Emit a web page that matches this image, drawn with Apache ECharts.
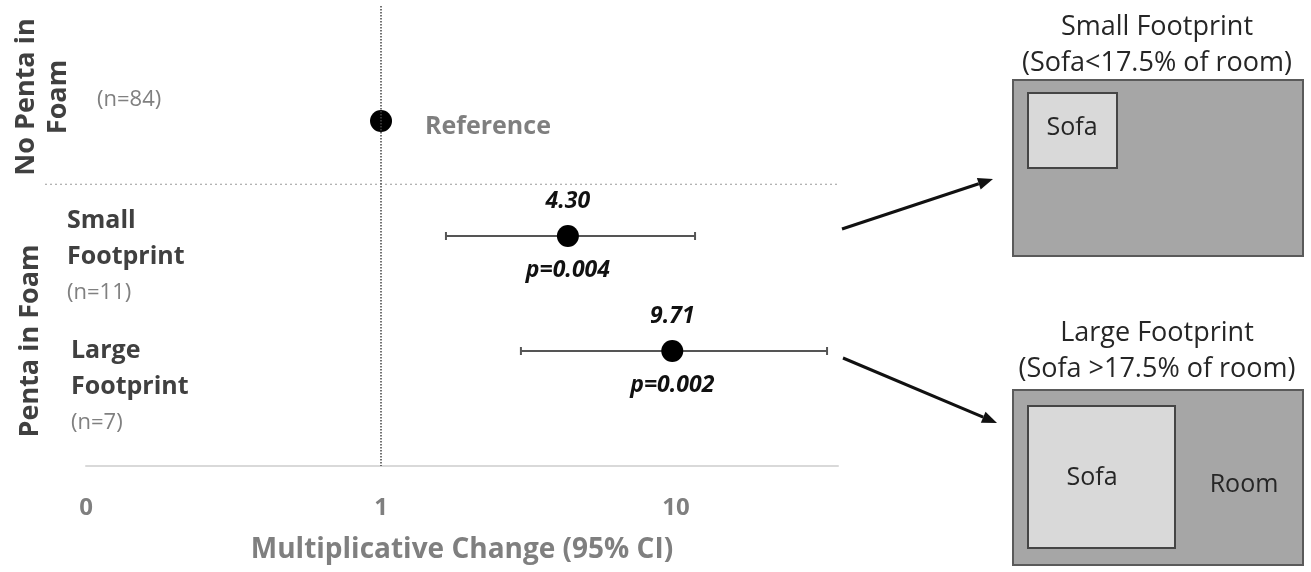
<!DOCTYPE html>
<html>
<head>
<meta charset="utf-8">
<script src="https://cdn.jsdelivr.net/npm/echarts@6/dist/echarts.min.js"></script>
<style>
  html, body { margin: 0; padding: 0; background: #fff; }
  #chart { width: 1311px; height: 572px; }
</style>
</head>
<body>
<div id="chart"></div>
<script>
// Forest plot: multiplicative change in exposure by sofa footprint
const groups = ['Reference', 'Small Footprint', 'Large Footprint'];
const rows = [1, 2, 3];
const estimates = [1, 4.30, 9.71];
const ciLow = [null, 1.66, 2.98];
const ciHigh = [null, 11.6, 32.5];
const pValues = [null, '0.004', '0.002'];
const sampleSizes = [84, 11, 7];
const tickValues = [0.1, 1, 10];
const tickLabels = ['0', '1', '10'];
const xMin = 0.1;
const xMax = 35.4;

const FONT = "'Open Sans', 'Noto Sans', sans-serif";
const chart = echarts.init(document.getElementById('chart'));

const pointData = estimates.map((v, i) => {
  const item = { value: [v, rows[i]] };
  if (i === 0) {
    item.label = {
      show: true, position: 'right', distance: 33, offset: [0, 6],
      formatter: groups[0], color: '#7f7f7f', fontSize: 25, fontWeight: 'bold', fontFamily: FONT
    };
  } else {
    item.label = {
      show: true, position: 'top', distance: 12,
      formatter: v.toFixed(2), color: '#111', fontSize: 23,
      fontWeight: 'bold', fontStyle: 'italic', fontFamily: FONT
    };
  }
  return item;
});

const barData = [];
estimates.forEach((v, i) => {
  if (ciLow[i] != null) barData.push([ciLow[i], ciHigh[i], rows[i], v, pValues[i]]);
});

function renderBar(params, api) {
  const y = api.value(2);
  const a = api.coord([api.value(0), y]);
  const b = api.coord([api.value(1), y]);
  const c = api.coord([api.value(3), y]);
  const style = { stroke: '#555', lineWidth: 2 };
  return {
    type: 'group',
    children: [
      { type: 'line', shape: { x1: a[0], y1: a[1], x2: b[0], y2: b[1] }, style },
      { type: 'line', shape: { x1: a[0], y1: a[1] - 4, x2: a[0], y2: a[1] + 4 }, style },
      { type: 'line', shape: { x1: b[0], y1: b[1] - 4, x2: b[0], y2: b[1] + 4 }, style },
      {
        type: 'text', x: c[0], y: c[1] + 34,
        style: {
          text: 'p=' + api.value(4), align: 'center', verticalAlign: 'middle',
          fill: '#111', fontSize: 23, fontWeight: 'bold', fontStyle: 'italic', fontFamily: FONT
        }
      }
    ]
  };
}

function arrow(x1, y1, x2, y2) {
  const ang = Math.atan2(y2 - y1, x2 - x1);
  const len = 15, half = 6;
  const bx = x2 - len * Math.cos(ang), by = y2 - len * Math.sin(ang);
  const nx = -Math.sin(ang), ny = Math.cos(ang);
  return [
    { type: 'line', shape: { x1, y1, x2: bx, y2: by }, style: { stroke: '#111', lineWidth: 3 } },
    { type: 'polygon', shape: { points: [[x2, y2], [bx + nx * half, by + ny * half], [bx - nx * half, by - ny * half]] }, style: { fill: '#111' } }
  ];
}

function txt(x, y, text, opts) {
  return {
    type: 'text', x, y,
    style: Object.assign({
      text, align: 'left', verticalAlign: 'middle', fill: '#404040',
      fontSize: 25, fontWeight: 'bold', fontFamily: FONT
    }, opts || {})
  };
}

function roomPanel(title1, title2, top, room, sofa, sofaLabel, roomLabel) {
  const plain = { align: 'center', fontWeight: 'normal', fill: '#262626' };
  const els = [
    txt(1157, top, title1, Object.assign({ fontSize: 27 }, plain)),
    txt(1157, top + 36, title2, Object.assign({ fontSize: 27 }, plain)),
    { type: 'rect', shape: room, style: { fill: '#a6a6a6', stroke: '#5a5a5a', lineWidth: 2 } },
    { type: 'rect', shape: sofa, style: { fill: '#d9d9d9', stroke: '#454545', lineWidth: 2 } },
    txt(sofaLabel[0], sofaLabel[1], 'Sofa', Object.assign({ fontSize: 25 }, plain))
  ];
  if (roomLabel) {
    els.push(txt(roomLabel[0], roomLabel[1], 'Room', Object.assign({ fontSize: 25 }, plain)));
  }
  return els;
}

chart.setOption({
  animation: false,
  backgroundColor: '#fff',
  grid: { left: 86, right: 473, top: 6, bottom: 106 },
  xAxis: {
    type: 'log', logBase: 10, min: xMin, max: xMax, position: 'bottom',
    axisLine: { show: true, onZero: false, lineStyle: { color: '#d9d9d9', width: 2 } },
    axisTick: { show: false },
    splitLine: { show: false },
    axisLabel: {
      margin: 30, fontSize: 24, fontWeight: 'bold', color: '#7f7f7f', fontFamily: FONT,
      showMaxLabel: false, showMinLabel: true,
      formatter: (v) => {
        const k = tickValues.findIndex(t => Math.abs(Math.log10(t) - Math.log10(v)) < 1e-6);
        return k >= 0 ? tickLabels[k] : '';
      }
    },
    name: 'Multiplicative Change (95% CI)',
    nameLocation: 'middle', nameGap: 70,
    nameTextStyle: { fontSize: 28, fontWeight: 'bold', color: '#7f7f7f', fontFamily: FONT }
  },
  yAxis: { type: 'value', inverse: true, min: 0, max: 4, show: false },
  series: [
    {
      type: 'custom', renderItem: renderBar, data: barData,
      encode: { x: [0, 1], y: 2 }, z: 2
    },
    {
      type: 'scatter', data: pointData, symbol: 'circle', symbolSize: 22,
      itemStyle: { color: '#000', opacity: 1 }, z: 3,
      markLine: {
        silent: true, symbol: 'none', label: { show: false },
        lineStyle: { type: 'dotted', color: '#444', width: 1.5 },
        data: [{ xAxis: 1 }]
      }
    }
  ]
});

// Divider between the reference group and the foam groups
const divY = chart.convertToPixel({ yAxisIndex: 0 }, 1.55);
const rightX = chart.convertToPixel({ xAxisIndex: 0 }, xMax);

const graphics = [
  { type: 'line', shape: { x1: 45, y1: divY, x2: rightX, y2: divY },
    style: { stroke: '#9a9a9a', lineWidth: 1.2, lineDash: [2, 3] } },
  // Group headers (rotated)
  { type: 'text', x: 42, y: 97, rotation: Math.PI / 2,
    style: { text: 'No Penta in\nFoam', align: 'center', verticalAlign: 'middle', lineHeight: 32,
             fill: '#404040', fontSize: 27, fontWeight: 'bold', fontFamily: FONT } },
  { type: 'text', x: 30, y: 341, rotation: Math.PI / 2,
    style: { text: 'Penta in Foam', align: 'center', verticalAlign: 'middle',
             fill: '#404040', fontSize: 27, fontWeight: 'bold', fontFamily: FONT } },
  txt(97, 100, '(n=' + sampleSizes[0] + ')', { fontWeight: 'normal', fill: '#808080', fontSize: 22 }),
  txt(67, 221, 'Small'),
  txt(67, 257, 'Footprint'),
  txt(67, 293, '(n=' + sampleSizes[1] + ')', { fontWeight: 'normal', fill: '#808080', fontSize: 22 }),
  txt(71, 351, 'Large'),
  txt(71, 387, 'Footprint'),
  txt(71, 423, '(n=' + sampleSizes[2] + ')', { fontWeight: 'normal', fill: '#808080', fontSize: 22 })
]
  .concat(arrow(842, 229, 993, 179))
  .concat(arrow(843, 358, 997, 423))
  .concat(roomPanel('Small Footprint', '(Sofa<17.5% of room)', 27,
    { x: 1013, y: 80, width: 290, height: 176 },
    { x: 1028, y: 93, width: 89, height: 75 }, [1072, 128], null))
  .concat(roomPanel('Large Footprint', '(Sofa >17.5% of room)', 333,
    { x: 1013, y: 390, width: 290, height: 175 },
    { x: 1028, y: 406, width: 147, height: 142 }, [1092, 478], [1244, 485]));

chart.setOption({ graphic: graphics });
</script>
</body>
</html>
